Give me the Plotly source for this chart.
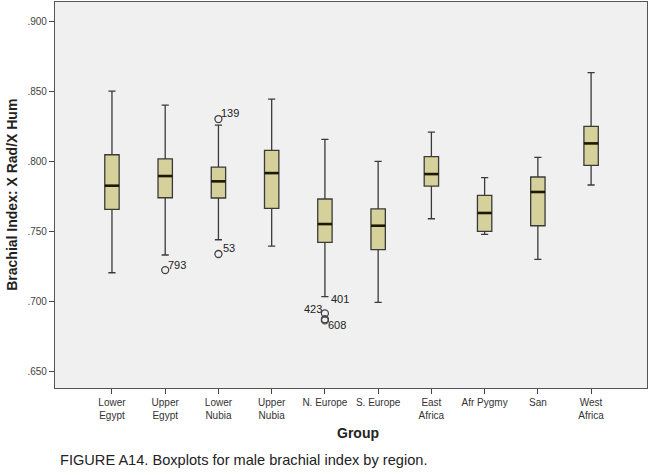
import plotly.graph_objects as go

groups = ["Lower<br>Egypt", "Upper<br>Egypt", "Lower<br>Nubia", "Upper<br>Nubia", "N. Europe",
          "S. Europe", "East<br>Africa", "Afr Pygmy", "San", "West<br>Africa"]
lower_whisker = [0.7202, 0.7329, 0.7438, 0.7393, 0.7031, 0.6991, 0.7588, 0.7476, 0.7298, 0.7829]
q1 = [0.7655, 0.7738, 0.7736, 0.7662, 0.7419, 0.7367, 0.7821, 0.7498, 0.7538, 0.7969]
median = [0.7824, 0.7893, 0.7855, 0.7914, 0.7550, 0.7538, 0.7907, 0.7629, 0.7779, 0.8126]
q3 = [0.8045, 0.8016, 0.7957, 0.8076, 0.7729, 0.7659, 0.8031, 0.7755, 0.7886, 0.8248]
upper_whisker = [0.8500, 0.8400, 0.8257, 0.8443, 0.8155, 0.7998, 0.8207, 0.7881, 0.8026, 0.8631]

# outliers: (group index, value, case label)
outlier_group = [1, 2, 2, 4, 4, 4]
outlier_value = [0.7221, 0.8300, 0.7336, 0.6912, 0.6870, 0.6862]
outlier_case = ["793", "139", "53", "423", "", "608"]
# case label at whisker end (N. Europe)
whisker_case_group = [4]
whisker_case_value = [0.7031]
whisker_case = ["401"]

y_ticks = [0.650, 0.700, 0.750, 0.800, 0.850, 0.900]
y_tick_text = [".650", ".700", ".750", ".800", ".850", ".900"]

BOX_W = 0.27
fill = "#D6D09A"
edge = "#3a3a3a"

fig = go.Figure()
xs = list(range(len(groups)))
for i in xs:
    fig.add_trace(go.Box(
        x=[i], q1=[q1[i]], median=[median[i]], q3=[q3[i]],
        lowerfence=[lower_whisker[i]], upperfence=[upper_whisker[i]],
        width=BOX_W, whiskerwidth=0.5, fillcolor=fill,
        line=dict(color=edge, width=1.3), boxpoints=False, showlegend=False,
        hoverinfo="skip"))

# thick median lines
for i in xs:
    fig.add_trace(go.Scatter(
        x=[i - BOX_W / 2, i + BOX_W / 2], y=[median[i], median[i]], mode="lines",
        line=dict(color="#1a1a00", width=2.6), showlegend=False, hoverinfo="skip"))

# outliers
fig.add_trace(go.Scatter(
    x=outlier_group, y=outlier_value, mode="markers",
    marker=dict(symbol="circle-open", size=7, color="#444", line=dict(width=1.3)),
    showlegend=False, hoverinfo="skip"))

label_pos = {"793": (12, 5), "139": (12, 6), "53": (11, 6), "423": (-12, 4), "608": (12, -5)}
for g, v, c in zip(outlier_group, outlier_value, outlier_case):
    if not c:
        continue
    dx, dy = label_pos[c]
    fig.add_annotation(x=g, y=v, text=c, showarrow=False, xshift=dx, yshift=dy,
                       font=dict(family="Arial, Liberation Sans", size=11, color="#222"))
for g, v, c in zip(whisker_case_group, whisker_case_value, whisker_case):
    fig.add_annotation(x=g, y=v, text=c, showarrow=False, xshift=15, yshift=-2,
                       font=dict(family="Arial, Liberation Sans", size=11, color="#222"))

fig.update_layout(
    width=650, height=475,
    margin=dict(l=55, r=3, t=2, b=87),
    paper_bgcolor="white", plot_bgcolor="#F0F0F0",
    font=dict(family="Arial, Liberation Sans", color="#333"),
    xaxis=dict(range=[-1.07, 10.05], tickvals=xs, ticktext=groups, showgrid=False,
               zeroline=False, ticks="outside", ticklen=5, tickcolor="#444",
               showline=True, linecolor="#555", linewidth=1.2, mirror=True,
               tickfont=dict(size=10, color="#333")),
    yaxis=dict(range=[0.6379, 0.9136], tickvals=y_ticks, ticktext=y_tick_text,
               showgrid=False, zeroline=False, ticks="outside", ticklen=5,
               tickcolor="#444", showline=True, linecolor="#555", linewidth=1.2,
               mirror=True, tickfont=dict(size=10, color="#444")),
)

fig.add_annotation(xref="paper", yref="paper", x=-0.073, y=0.50, xanchor="center", yanchor="middle",
                   text="<b>Brachial Index: X Rad/X Hum</b>",
                   textangle=-90, showarrow=False, font=dict(size=14, color="#222"))
fig.add_annotation(xref="paper", yref="paper", x=0.512, y=-0.117, xanchor="center", yanchor="middle",
                   text="<b>Group</b>",
                   showarrow=False, font=dict(size=14, color="#222"))
fig.add_annotation(xref="paper", yref="paper", x=0.005, y=-0.187, xanchor="left", yanchor="middle",
                   text="FIGURE A14. Boxplots for male brachial index by region.",
                   showarrow=False, font=dict(size=14.6, color="#222"))

fig.write_html("out.html")
